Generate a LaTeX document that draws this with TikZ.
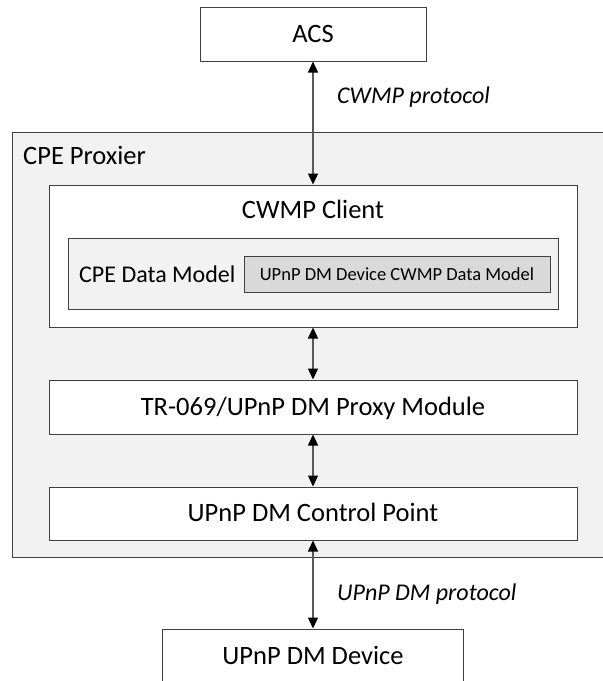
\documentclass[tikz,border=0pt]{standalone}
\usepackage{fontspec}
\setmainfont{Carlito}
\usetikzlibrary{arrows.meta}

\definecolor{linegray}{HTML}{404040}
\definecolor{arrowgray}{HTML}{595959}
\definecolor{panelgray}{HTML}{F2F2F2}
\definecolor{modelgray}{HTML}{D9D9D9}
\newcommand{\mainsize}{\fontsize{26.5}{30}\selectfont}
\newcommand{\midsize}{\fontsize{24}{28}\selectfont}
\newcommand{\smallsize}{\fontsize{18.5}{22}\selectfont}

\begin{document}
\begin{tikzpicture}[x=1pt,y=-1pt,
  every node/.style={inner sep=0pt,font=\mainsize,text height=20pt,text depth=4pt},
  block/.style={draw=linegray,line width=1pt,fill=white,minimum height=54pt},
  panel/.style={draw=linegray,line width=1pt,fill=panelgray},
  lbl/.style={anchor=west,font=\midsize\itshape},
  link/.style={arrowgray,line width=1.3pt,
    {Triangle[black,length=11pt,width=10pt]}-{Triangle[black,length=11pt,width=10pt]}}]
\useasboundingbox (0,0) rectangle (603,681);
\clip (0,0) rectangle (603,681);
% proxier frame, runs off the right side
\node[panel,anchor=north west,minimum width=610pt,minimum height=425pt] (proxier) at (12,132) {};
\node[anchor=west] (proxiertitle) at (23,156) {CPE Proxier};
% boxes
\node[block,minimum width=226pt] (acs) at (313,34) {ACS};
\node[block,minimum width=528pt,minimum height=142pt] (client) at (313,256) {};
\node (clienttitle) at (313,210) {CWMP Client};
\node[panel,minimum width=490pt,minimum height=71pt] (cpedm) at (313,273.5) {};
\node[anchor=west,font=\midsize] (cpedmtitle) at (79,274) {CPE Data Model};
\node[panel,fill=modelgray,minimum width=306pt,minimum height=36pt,
  font=\smallsize,text height=15pt,text depth=3pt] (devdm) at (397,274) {UPnP DM Device CWMP Data Model};
\node[block,minimum width=528pt] (proxy) at (313,407) {TR-069/UPnP DM Proxy Module};
\node[block,minimum width=528pt,minimum height=53pt] (cp) at (313,513.5) {UPnP DM Control Point};
\node[block,minimum width=301pt] (dev) at (313,656) {UPnP DM Device};
% connectors
\draw[link] (acs) -- (client);
\draw[link] (client) -- (proxy);
\draw[link] (proxy) -- (cp);
\draw[link] (cp) -- (dev);
\node[lbl] (cwmplbl) at (337,95) {CWMP protocol};
\node[lbl] (upnplbl) at (337,592) {UPnP DM protocol};
\end{tikzpicture}
\end{document}
